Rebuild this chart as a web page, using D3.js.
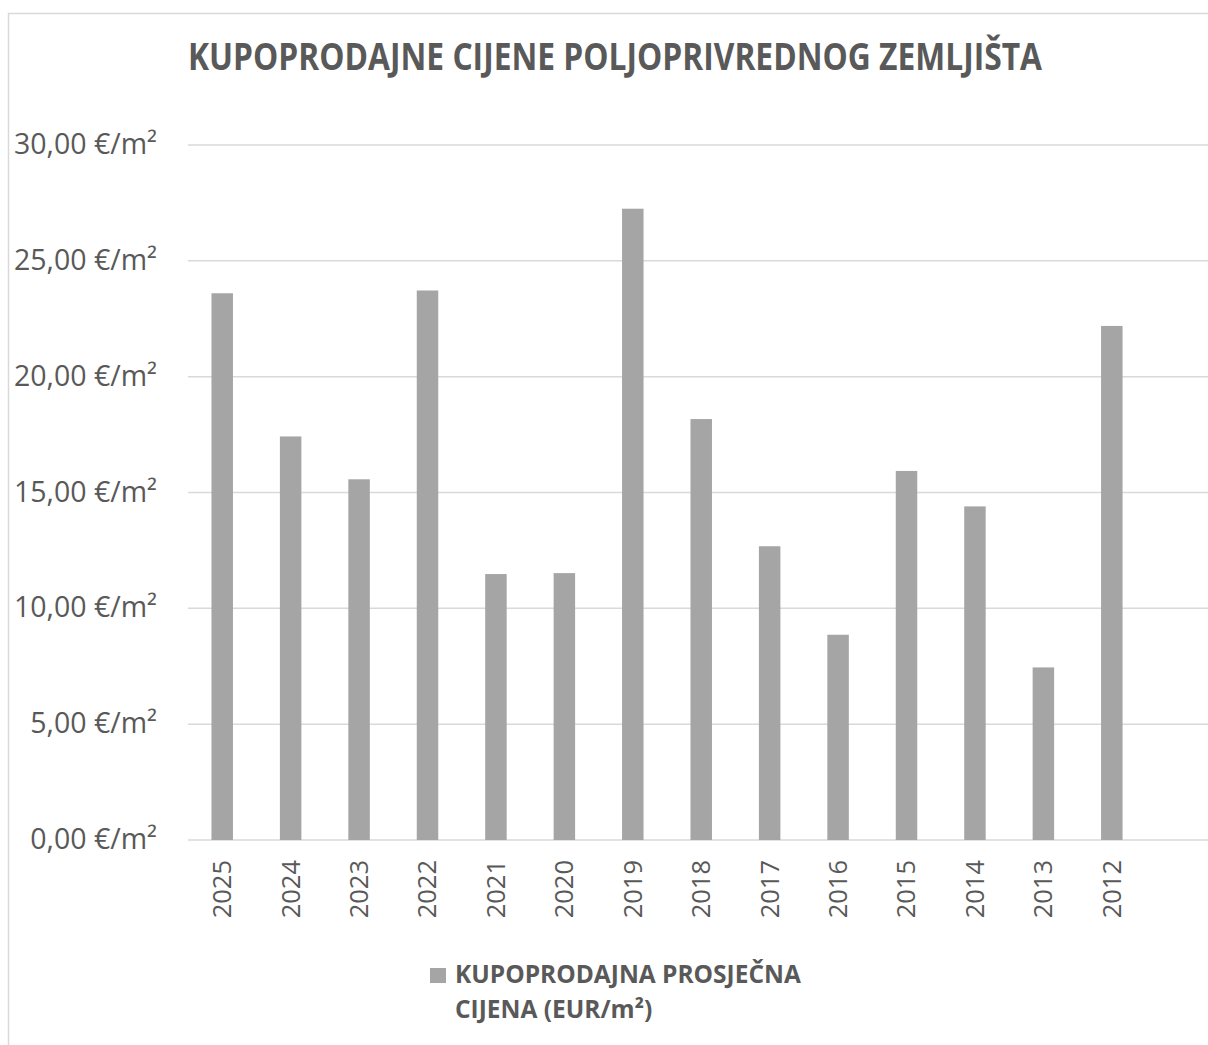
<!DOCTYPE html>
<html>
<head>
<meta charset="utf-8">
<script src="https://cdn.jsdelivr.net/npm/d3@7"></script>
<style>
  html, body { margin: 0; padding: 0; background: #fff; }
  svg { display: block; }
</style>
</head>
<body>
<svg id="chart" width="1208" height="1045"></svg>
<script>
// data
const years = ["2025", "2024", "2023", "2022", "2021", "2020", "2019", "2018", "2017", "2016", "2015", "2014", "2013", "2012"];
const prices = [23.60, 17.42, 15.57, 23.72, 11.48, 11.52, 27.25, 18.17, 12.68, 8.86, 15.93, 14.40, 7.45, 22.19];
const yTicks = [0, 5, 10, 15, 20, 25, 30];
const title = "KUPOPRODAJNE CIJENE POLJOPRIVREDNOG ZEMLJIŠTA";
const legendLines = ["KUPOPRODAJNA PROSJEČNA", "CIJENA (EUR/m²)"];

const data = years.map((y, i) => ({ year: y, price: prices[i] }));

const svg = d3.select("#chart");
const textColor = "#595959";
const gridColor = "#d9d9d9";
const barColor = "#a5a5a5";
const font = "'Open Sans', 'Noto Sans', sans-serif";

// chart frame (cut off on the right and bottom)
svg.append("rect")
    .attr("x", 8.5)
    .attr("y", 13.5)
    .attr("width", 1300)
    .attr("height", 1100)
    .style("fill", "none")
    .style("stroke", gridColor)
    .style("stroke-width", 1.5);

const plotLeft = 188, plotRight = 1208;
const xScale = d3.scaleBand()
    .domain(years)
    .range([plotLeft, plotLeft + 14 * 68.43])
    .paddingInner(0.686)
    .paddingOuter(0.343);

const yScale = d3.scaleLinear()
    .domain([0, 30])
    .range([840, 145]);

// gridlines
svg.append("g")
    .selectAll("line")
    .data(yTicks)
    .enter()
    .append("line")
    .attr("x1", plotLeft)
    .attr("x2", plotRight)
    .attr("y1", d => yScale(d))
    .attr("y2", d => yScale(d))
    .style("stroke", gridColor)
    .style("stroke-width", 1.5);

// y axis labels
const yAxis = d3.axisLeft(yScale)
    .tickValues(yTicks)
    .tickSize(0)
    .tickPadding(0)
    .tickFormat(d => d3.format(".2f")(d).replace(".", ",") + " €/m²");

svg.append("g")
    .attr("transform", "translate(157,0)")
    .call(yAxis)
    .call(g => g.select(".domain").remove())
    .selectAll("text")
    .attr("dy", "0.3em")
    .style("font-family", font)
    .style("font-size", "28.5px")
    .style("fill", textColor);

// bars
svg.append("g")
    .selectAll(".bar")
    .data(data)
    .enter()
    .append("rect")
    .attr("class", "bar")
    .attr("x", d => xScale(d.year))
    .attr("y", d => yScale(d.price))
    .attr("width", xScale.bandwidth())
    .attr("height", d => yScale(0) - yScale(d.price))
    .style("fill", barColor);

// x axis labels, rotated
const xAxis = d3.axisBottom(xScale).tickSize(0).tickPadding(0);
svg.append("g")
    .attr("transform", "translate(0,840)")
    .call(xAxis)
    .call(g => g.select(".domain").remove())
    .selectAll("text")
    .attr("transform", "rotate(-90)")
    .attr("x", -20)
    .attr("y", 0)
    .attr("dy", "0.35em")
    .style("text-anchor", "end")
    .style("font-family", font)
    .style("font-size", "25.5px")
    .style("fill", textColor);

// title
svg.append("text")
    .attr("x", 188)
    .attr("y", 70)
    .attr("textLength", 854)
    .attr("lengthAdjust", "spacingAndGlyphs")
    .style("font-family", font)
    .style("font-weight", "bold")
    .style("font-size", "37px")
    .style("fill", textColor)
    .text(title);

// legend
svg.append("rect")
    .attr("x", 430)
    .attr("y", 968)
    .attr("width", 16)
    .attr("height", 15)
    .style("fill", barColor);

svg.append("g")
    .selectAll("text")
    .data(legendLines)
    .enter()
    .append("text")
    .attr("x", 455)
    .attr("y", (d, i) => 983 + i * 35)
    .style("font-family", font)
    .style("font-weight", "bold")
    .style("font-size", "24.5px")
    .style("fill", textColor)
    .text(d => d);
</script>
</body>
</html>
